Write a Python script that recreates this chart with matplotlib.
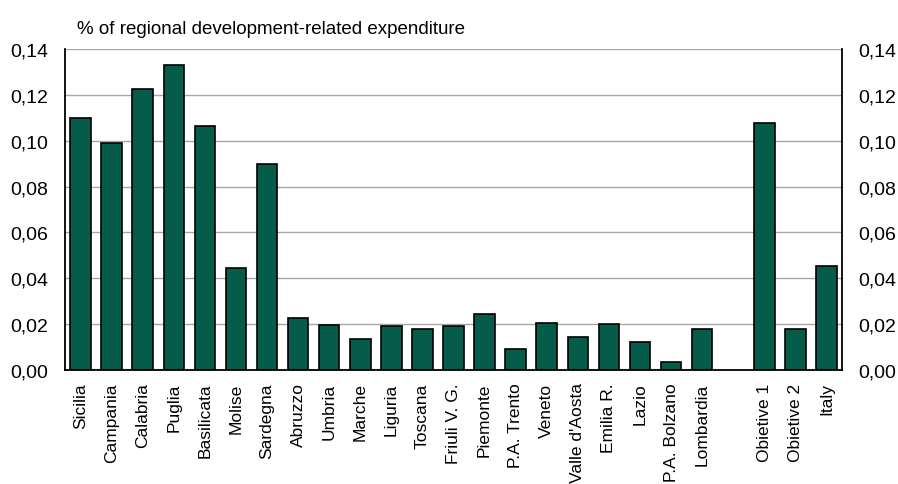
import matplotlib
matplotlib.use("Agg")
import matplotlib.pyplot as plt

plt.rcParams['font.family'] = ['Liberation Sans', 'DejaVu Sans']

regions = ["Sicilia", "Campania", "Calabria", "Puglia", "Basilicata", "Molise",
           "Sardegna", "Abruzzo", "Umbria", "Marche", "Liguria", "Toscana",
           "Friuli V. G.", "Piemonte", "P.A. Trento", "Veneto", "Valle d'Aosta",
           "Emilia R.", "Lazio", "P.A. Bolzano", "Lombardia"]
region_values = [0.1097, 0.0992, 0.1226, 0.1331, 0.1066, 0.0447,
                 0.0899, 0.0226, 0.0195, 0.0137, 0.0190, 0.0180,
                 0.0190, 0.0244, 0.0091, 0.0204, 0.0146,
                 0.0199, 0.0123, 0.0035, 0.0178]
aggregates = ["Obietive 1", "Obietive 2", "Italy"]
aggregate_values = [0.1076, 0.0178, 0.0453]
y_ticks = [0.00, 0.02, 0.04, 0.06, 0.08, 0.10, 0.12, 0.14]
y_ticklabels = ["0,00", "0,02", "0,04", "0,06", "0,08", "0,10", "0,12", "0,14"]
title = "% of regional development-related expenditure"

labels = regions + aggregates
values = region_values + aggregate_values
n_reg = len(regions)
positions = list(range(n_reg)) + [n_reg + 1 + i for i in range(len(aggregates))]

fig = plt.figure(figsize=(8.98, 4.85), dpi=100)
ax = fig.add_axes([65/898, 1 - 371/485, (842-65)/898, (371-50)/485])

ax.bar(positions, values, width=0.66, color="#065C4A", edgecolor="black",
       linewidth=1.2, zorder=3)

ax.set_xlim(-0.5, positions[-1] + 0.5)
ax.set_ylim(0, 0.14)
ax.set_yticks(y_ticks)
ax.set_yticklabels(y_ticklabels)
ax.set_xticks(positions)
ax.set_xticklabels(labels, rotation=90, fontsize=12.5)
ax.tick_params(axis='x', length=0, pad=9)
ax.tick_params(axis='y', length=0, pad=12, labelsize=14,
               labelleft=True, labelright=True)

ax.grid(axis='y', color="#a6a6a6", linewidth=1.0, zorder=0)
ax.set_axisbelow(True)
ax.spines['top'].set_visible(False)
for s in ['left', 'right', 'bottom']:
    ax.spines[s].set_color("black")
    ax.spines[s].set_linewidth(1.3)
ax.spines['bottom'].set_zorder(4)

fig.text(77/898, 1 - 30/485, title, fontsize=13.5, va='center', ha='left')

fig.savefig("out.png", dpi=100)
